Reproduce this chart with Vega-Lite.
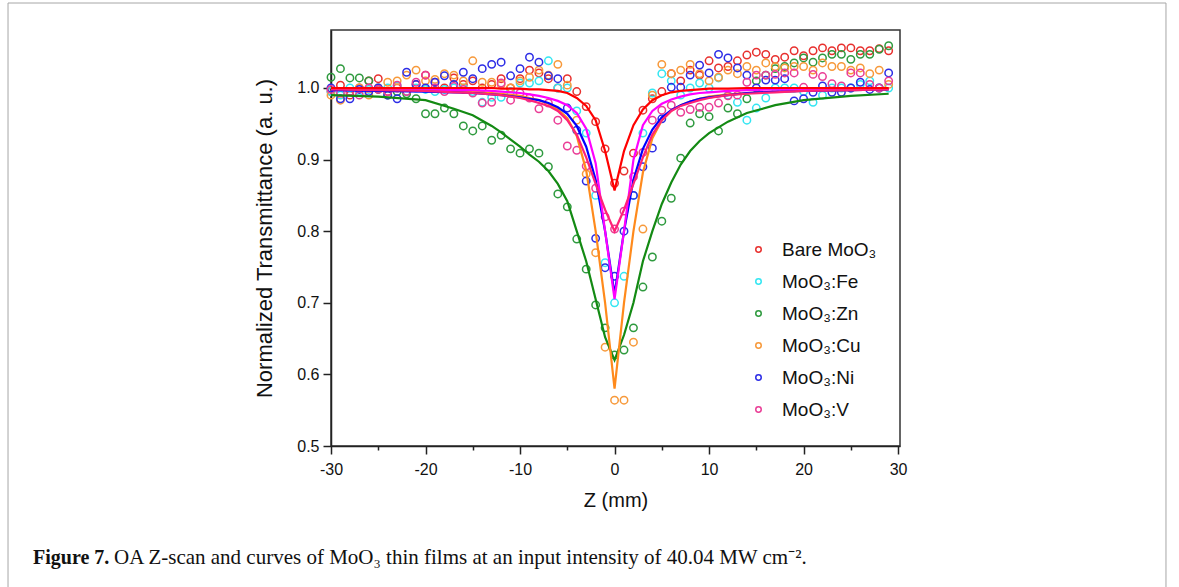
{
  "$schema": "https://vega.github.io/schema/vega-lite/v6.json",
  "width": 569,
  "height": 416,
  "autosize": {"type": "none"},
  "padding": {"left": 331, "top": 30, "right": 279, "bottom": 141},
  "background": "white",
  "config": {
    "view": {"stroke": "#333333", "strokeWidth": 1.5},
    "axis": {
      "grid": false,
      "domainColor": "#222222",
      "domainWidth": 1.5,
      "tickColor": "#222222",
      "tickWidth": 1.5,
      "labelFont": "Liberation Sans",
      "labelFontSize": 16,
      "labelColor": "#111111",
      "titleFont": "Liberation Sans",
      "titleFontSize": 20,
      "titleFontWeight": "normal",
      "titleColor": "#111111",
      "labelOverlap": false,
      "labelBound": false,
      "labelFlush": false
    }
  },
  "datasets": {
    "pts": [
      {"z": -30, "Bare MoO₃": 0.995, "MoO₃:Fe": 0.995, "MoO₃:Zn": 1.015, "MoO₃:Cu": 0.99, "MoO₃:Ni": 1.0, "MoO₃:V": 0.998},
      {"z": -29, "Bare MoO₃": 1.004, "MoO₃:Fe": 0.99, "MoO₃:Zn": 1.027, "MoO₃:Cu": 0.983, "MoO₃:Ni": 0.985, "MoO₃:V": 0.993},
      {"z": -28, "Bare MoO₃": 0.99, "MoO₃:Fe": 1.0, "MoO₃:Zn": 1.014, "MoO₃:Cu": 0.995, "MoO₃:Ni": 0.985, "MoO₃:V": 0.995},
      {"z": -27, "Bare MoO₃": 1.0, "MoO₃:Fe": 0.995, "MoO₃:Zn": 1.014, "MoO₃:Cu": 1.0, "MoO₃:Ni": 0.998, "MoO₃:V": 0.99},
      {"z": -26, "Bare MoO₃": 1.01, "MoO₃:Fe": 0.998, "MoO₃:Zn": 1.01, "MoO₃:Cu": 0.99, "MoO₃:Ni": 0.995, "MoO₃:V": 1.0},
      {"z": -25, "Bare MoO₃": 1.013, "MoO₃:Fe": 1.0, "MoO₃:Zn": 0.998, "MoO₃:Cu": 1.0, "MoO₃:Ni": 1.0, "MoO₃:V": 0.998},
      {"z": -24, "Bare MoO₃": 0.995, "MoO₃:Fe": 1.0, "MoO₃:Zn": 0.99, "MoO₃:Cu": 1.008, "MoO₃:Ni": 0.99, "MoO₃:V": 0.995},
      {"z": -23, "Bare MoO₃": 1.0, "MoO₃:Fe": 1.003, "MoO₃:Zn": 0.995, "MoO₃:Cu": 1.01, "MoO₃:Ni": 0.985, "MoO₃:V": 1.004},
      {"z": -22, "Bare MoO₃": 0.995, "MoO₃:Fe": 0.995, "MoO₃:Zn": 0.992, "MoO₃:Cu": 1.018, "MoO₃:Ni": 1.022, "MoO₃:V": 0.995},
      {"z": -21, "Bare MoO₃": 1.005, "MoO₃:Fe": 1.0, "MoO₃:Zn": 0.985, "MoO₃:Cu": 1.025, "MoO₃:Ni": 1.005, "MoO₃:V": 1.008},
      {"z": -20, "Bare MoO₃": 1.018, "MoO₃:Fe": 0.998, "MoO₃:Zn": 0.964, "MoO₃:Cu": 1.01, "MoO₃:Ni": 1.0, "MoO₃:V": 1.018},
      {"z": -19, "Bare MoO₃": 1.008, "MoO₃:Fe": 0.995, "MoO₃:Zn": 0.964, "MoO₃:Cu": 1.012, "MoO₃:Ni": 1.008, "MoO₃:V": 1.0},
      {"z": -18, "Bare MoO₃": 1.0, "MoO₃:Fe": 0.998, "MoO₃:Zn": 0.972, "MoO₃:Cu": 1.02, "MoO₃:Ni": 1.017, "MoO₃:V": 0.995},
      {"z": -17, "Bare MoO₃": 1.014, "MoO₃:Fe": 1.0, "MoO₃:Zn": 0.964, "MoO₃:Cu": 1.018, "MoO₃:Ni": 1.005, "MoO₃:V": 1.002},
      {"z": -16, "Bare MoO₃": 1.005, "MoO₃:Fe": 1.0, "MoO₃:Zn": 0.947, "MoO₃:Cu": 1.01, "MoO₃:Ni": 1.022, "MoO₃:V": 0.998},
      {"z": -15, "Bare MoO₃": 1.01, "MoO₃:Fe": 0.995, "MoO₃:Zn": 0.94, "MoO₃:Cu": 1.038, "MoO₃:Ni": 1.013, "MoO₃:V": 0.993},
      {"z": -14, "Bare MoO₃": 1.0, "MoO₃:Fe": 0.98, "MoO₃:Zn": 0.947, "MoO₃:Cu": 1.008, "MoO₃:Ni": 1.027, "MoO₃:V": 0.979},
      {"z": -13, "Bare MoO₃": 1.005, "MoO₃:Fe": 0.987, "MoO₃:Zn": 0.927, "MoO₃:Cu": 1.008, "MoO₃:Ni": 1.033, "MoO₃:V": 0.98},
      {"z": -12, "Bare MoO₃": 1.013, "MoO₃:Fe": 0.987, "MoO₃:Zn": 0.934, "MoO₃:Cu": 1.005, "MoO₃:Ni": 1.036, "MoO₃:V": 1.007},
      {"z": -11, "Bare MoO₃": 1.0, "MoO₃:Fe": 0.995, "MoO₃:Zn": 0.915, "MoO₃:Cu": 1.0, "MoO₃:Ni": 1.017, "MoO₃:V": 0.983},
      {"z": -10, "Bare MoO₃": 1.013, "MoO₃:Fe": 1.007, "MoO₃:Zn": 0.909, "MoO₃:Cu": 1.01, "MoO₃:Ni": 1.027, "MoO₃:V": 0.993},
      {"z": -9, "Bare MoO₃": 1.025, "MoO₃:Fe": 1.007, "MoO₃:Zn": 0.915, "MoO₃:Cu": 1.015, "MoO₃:Ni": 1.043, "MoO₃:V": 0.986},
      {"z": -8, "Bare MoO₃": 1.021, "MoO₃:Fe": 1.01, "MoO₃:Zn": 0.909, "MoO₃:Cu": 1.025, "MoO₃:Ni": 1.036, "MoO₃:V": 0.971},
      {"z": -7, "Bare MoO₃": 1.013, "MoO₃:Fe": 1.038, "MoO₃:Zn": 0.89, "MoO₃:Cu": 1.018, "MoO₃:Ni": 1.017, "MoO₃:V": 0.979},
      {"z": -6, "Bare MoO₃": 1.0, "MoO₃:Fe": 1.0, "MoO₃:Zn": 0.852, "MoO₃:Cu": 1.033, "MoO₃:Ni": 1.013, "MoO₃:V": 0.955},
      {"z": -5, "Bare MoO₃": 1.013, "MoO₃:Fe": 1.0, "MoO₃:Zn": 0.834, "MoO₃:Cu": 1.004, "MoO₃:Ni": 0.972, "MoO₃:V": 0.919},
      {"z": -4, "Bare MoO₃": 0.995, "MoO₃:Fe": 0.968, "MoO₃:Zn": 0.789, "MoO₃:Cu": 0.955, "MoO₃:Ni": 0.941, "MoO₃:V": 0.913},
      {"z": -3, "Bare MoO₃": 0.974, "MoO₃:Fe": 0.937, "MoO₃:Zn": 0.747, "MoO₃:Cu": 0.88, "MoO₃:Ni": 0.87, "MoO₃:V": 0.891},
      {"z": -2, "Bare MoO₃": 0.953, "MoO₃:Fe": 0.85, "MoO₃:Zn": 0.697, "MoO₃:Cu": 0.77, "MoO₃:Ni": 0.79, "MoO₃:V": 0.86},
      {"z": -1, "Bare MoO₃": 0.915, "MoO₃:Fe": 0.756, "MoO₃:Zn": 0.665, "MoO₃:Cu": 0.638, "MoO₃:Ni": 0.749, "MoO₃:V": 0.82},
      {"z": 0, "Bare MoO₃": 0.867, "MoO₃:Fe": 0.7, "MoO₃:Zn": 0.627, "MoO₃:Cu": 0.564, "MoO₃:Ni": 0.737, "MoO₃:V": 0.803},
      {"z": 1, "Bare MoO₃": 0.884, "MoO₃:Fe": 0.737, "MoO₃:Zn": 0.634, "MoO₃:Cu": 0.564, "MoO₃:Ni": 0.8, "MoO₃:V": 0.828},
      {"z": 2, "Bare MoO₃": 0.909, "MoO₃:Fe": 0.85, "MoO₃:Zn": 0.665, "MoO₃:Cu": 0.645, "MoO₃:Ni": 0.85, "MoO₃:V": 0.876},
      {"z": 3, "Bare MoO₃": 0.969, "MoO₃:Fe": 0.937, "MoO₃:Zn": 0.722, "MoO₃:Cu": 0.803, "MoO₃:Ni": 0.89, "MoO₃:V": 0.91},
      {"z": 4, "Bare MoO₃": 0.985, "MoO₃:Fe": 0.993, "MoO₃:Zn": 0.764, "MoO₃:Cu": 0.99, "MoO₃:Ni": 0.916, "MoO₃:V": 0.955},
      {"z": 5, "Bare MoO₃": 0.995, "MoO₃:Fe": 1.02, "MoO₃:Zn": 0.814, "MoO₃:Cu": 1.033, "MoO₃:Ni": 0.957, "MoO₃:V": 0.969},
      {"z": 6, "Bare MoO₃": 1.02, "MoO₃:Fe": 1.01, "MoO₃:Zn": 0.846, "MoO₃:Cu": 1.02, "MoO₃:Ni": 1.001, "MoO₃:V": 0.976},
      {"z": 7, "Bare MoO₃": 1.01, "MoO₃:Fe": 0.99, "MoO₃:Zn": 0.902, "MoO₃:Cu": 1.025, "MoO₃:Ni": 1.001, "MoO₃:V": 0.966},
      {"z": 8, "Bare MoO₃": 1.025, "MoO₃:Fe": 1.0, "MoO₃:Zn": 0.951, "MoO₃:Cu": 1.033, "MoO₃:Ni": 1.018, "MoO₃:V": 0.97},
      {"z": 9, "Bare MoO₃": 1.018, "MoO₃:Fe": 1.007, "MoO₃:Zn": 0.964, "MoO₃:Cu": 1.02, "MoO₃:Ni": 1.032, "MoO₃:V": 0.973},
      {"z": 10, "Bare MoO₃": 1.038, "MoO₃:Fe": 1.0, "MoO₃:Zn": 0.96, "MoO₃:Cu": 1.01, "MoO₃:Ni": 1.021, "MoO₃:V": 0.973},
      {"z": 11, "Bare MoO₃": 1.028, "MoO₃:Fe": 1.014, "MoO₃:Zn": 0.94, "MoO₃:Cu": 1.015, "MoO₃:Ni": 1.047, "MoO₃:V": 0.979},
      {"z": 12, "Bare MoO₃": 1.03, "MoO₃:Fe": 0.99, "MoO₃:Zn": 0.972, "MoO₃:Cu": 1.025, "MoO₃:Ni": 1.042, "MoO₃:V": 0.989},
      {"z": 13, "Bare MoO₃": 1.038, "MoO₃:Fe": 0.98, "MoO₃:Zn": 0.964, "MoO₃:Cu": 1.02, "MoO₃:Ni": 1.028, "MoO₃:V": 0.99},
      {"z": 14, "Bare MoO₃": 1.046, "MoO₃:Fe": 0.955, "MoO₃:Zn": 0.985, "MoO₃:Cu": 1.03, "MoO₃:Ni": 1.018, "MoO₃:V": 1.008},
      {"z": 15, "Bare MoO₃": 1.05, "MoO₃:Fe": 0.972, "MoO₃:Zn": 1.01, "MoO₃:Cu": 1.025, "MoO₃:Ni": 1.0, "MoO₃:V": 1.018},
      {"z": 16, "Bare MoO₃": 1.047, "MoO₃:Fe": 0.986, "MoO₃:Zn": 1.018, "MoO₃:Cu": 1.035, "MoO₃:Ni": 1.011, "MoO₃:V": 1.018},
      {"z": 17, "Bare MoO₃": 1.04, "MoO₃:Fe": 1.0, "MoO₃:Zn": 1.027, "MoO₃:Cu": 1.03, "MoO₃:Ni": 1.011, "MoO₃:V": 1.019},
      {"z": 18, "Bare MoO₃": 1.043, "MoO₃:Fe": 1.0, "MoO₃:Zn": 1.03, "MoO₃:Cu": 1.028, "MoO₃:Ni": 1.013, "MoO₃:V": 1.021},
      {"z": 19, "Bare MoO₃": 1.052, "MoO₃:Fe": 1.0, "MoO₃:Zn": 1.035, "MoO₃:Cu": 1.03, "MoO₃:Ni": 0.982, "MoO₃:V": 1.021},
      {"z": 20, "Bare MoO₃": 1.045, "MoO₃:Fe": 0.995, "MoO₃:Zn": 1.042, "MoO₃:Cu": 1.03, "MoO₃:Ni": 0.985, "MoO₃:V": 1.001},
      {"z": 21, "Bare MoO₃": 1.052, "MoO₃:Fe": 0.98, "MoO₃:Zn": 1.036, "MoO₃:Cu": 1.025, "MoO₃:Ni": 0.994, "MoO₃:V": 1.019},
      {"z": 22, "Bare MoO₃": 1.056, "MoO₃:Fe": 0.99, "MoO₃:Zn": 1.042, "MoO₃:Cu": 1.035, "MoO₃:Ni": 1.003, "MoO₃:V": 1.016},
      {"z": 23, "Bare MoO₃": 1.052, "MoO₃:Fe": 1.0, "MoO₃:Zn": 1.047, "MoO₃:Cu": 1.03, "MoO₃:Ni": 0.994, "MoO₃:V": 1.006},
      {"z": 24, "Bare MoO₃": 1.056, "MoO₃:Fe": 1.0, "MoO₃:Zn": 1.047, "MoO₃:Cu": 1.03, "MoO₃:Ni": 0.994, "MoO₃:V": 1.003},
      {"z": 25, "Bare MoO₃": 1.056, "MoO₃:Fe": 1.0, "MoO₃:Zn": 1.04, "MoO₃:Cu": 1.025, "MoO₃:Ni": 1.0, "MoO₃:V": 1.021},
      {"z": 26, "Bare MoO₃": 1.052, "MoO₃:Fe": 1.005, "MoO₃:Zn": 1.047, "MoO₃:Cu": 1.028, "MoO₃:Ni": 1.008, "MoO₃:V": 1.021},
      {"z": 27, "Bare MoO₃": 1.052, "MoO₃:Fe": 1.01, "MoO₃:Zn": 1.047, "MoO₃:Cu": 1.02, "MoO₃:Ni": 0.998, "MoO₃:V": 1.005},
      {"z": 28, "Bare MoO₃": 1.055, "MoO₃:Fe": 1.0, "MoO₃:Zn": 1.054, "MoO₃:Cu": 1.025, "MoO₃:Ni": 1.0, "MoO₃:V": 1.0},
      {"z": 29, "Bare MoO₃": 1.052, "MoO₃:Fe": 1.0, "MoO₃:Zn": 1.059, "MoO₃:Cu": 1.005, "MoO₃:Ni": 1.021, "MoO₃:V": 1.01}
    ],
    "fit": [
      {"z": -30, "Bare MoO₃": 1.0, "MoO₃:Fe": 0.999, "MoO₃:Zn": 0.99, "MoO₃:Cu": 0.998, "MoO₃:Ni": 0.997, "MoO₃:V": 0.998},
      {"z": -25, "Bare MoO₃": 1.0, "MoO₃:Fe": 0.999, "MoO₃:Zn": 0.988, "MoO₃:Cu": 0.998, "MoO₃:Ni": 0.996, "MoO₃:V": 0.997},
      {"z": -20, "Bare MoO₃": 1.0, "MoO₃:Fe": 0.998, "MoO₃:Zn": 0.983, "MoO₃:Cu": 0.997, "MoO₃:Ni": 0.995, "MoO₃:V": 0.996},
      {"z": -17, "Bare MoO₃": 1.0, "MoO₃:Fe": 0.997, "MoO₃:Zn": 0.971, "MoO₃:Cu": 0.996, "MoO₃:Ni": 0.994, "MoO₃:V": 0.994},
      {"z": -15, "Bare MoO₃": 1.0, "MoO₃:Fe": 0.997, "MoO₃:Zn": 0.962, "MoO₃:Cu": 0.995, "MoO₃:Ni": 0.993, "MoO₃:V": 0.993},
      {"z": -13, "Bare MoO₃": 1.0, "MoO₃:Fe": 0.996, "MoO₃:Zn": 0.947, "MoO₃:Cu": 0.993, "MoO₃:Ni": 0.991, "MoO₃:V": 0.991},
      {"z": -12, "Bare MoO₃": 0.999, "MoO₃:Fe": 0.995, "MoO₃:Zn": 0.938, "MoO₃:Cu": 0.992, "MoO₃:Ni": 0.99, "MoO₃:V": 0.99},
      {"z": -10, "Bare MoO₃": 0.999, "MoO₃:Fe": 0.993, "MoO₃:Zn": 0.918, "MoO₃:Cu": 0.989, "MoO₃:Ni": 0.987, "MoO₃:V": 0.986},
      {"z": -9, "Bare MoO₃": 0.998, "MoO₃:Fe": 0.991, "MoO₃:Zn": 0.907, "MoO₃:Cu": 0.986, "MoO₃:Ni": 0.985, "MoO₃:V": 0.983},
      {"z": -8, "Bare MoO₃": 0.998, "MoO₃:Fe": 0.989, "MoO₃:Zn": 0.897, "MoO₃:Cu": 0.983, "MoO₃:Ni": 0.983, "MoO₃:V": 0.979},
      {"z": -7, "Bare MoO₃": 0.997, "MoO₃:Fe": 0.986, "MoO₃:Zn": 0.884, "MoO₃:Cu": 0.978, "MoO₃:Ni": 0.979, "MoO₃:V": 0.975},
      {"z": -6, "Bare MoO₃": 0.996, "MoO₃:Fe": 0.982, "MoO₃:Zn": 0.866, "MoO₃:Cu": 0.97, "MoO₃:Ni": 0.973, "MoO₃:V": 0.968},
      {"z": -5, "Bare MoO₃": 0.993, "MoO₃:Fe": 0.976, "MoO₃:Zn": 0.842, "MoO₃:Cu": 0.958, "MoO₃:Ni": 0.964, "MoO₃:V": 0.955},
      {"z": -4, "Bare MoO₃": 0.986, "MoO₃:Fe": 0.965, "MoO₃:Zn": 0.8, "MoO₃:Cu": 0.933, "MoO₃:Ni": 0.947, "MoO₃:V": 0.935},
      {"z": -3, "Bare MoO₃": 0.975, "MoO₃:Fe": 0.943, "MoO₃:Zn": 0.758, "MoO₃:Cu": 0.885, "MoO₃:Ni": 0.918, "MoO₃:V": 0.903},
      {"z": -2, "Bare MoO₃": 0.955, "MoO₃:Fe": 0.895, "MoO₃:Zn": 0.705, "MoO₃:Cu": 0.8, "MoO₃:Ni": 0.872, "MoO₃:V": 0.866},
      {"z": -1, "Bare MoO₃": 0.912, "MoO₃:Fe": 0.8, "MoO₃:Zn": 0.652, "MoO₃:Cu": 0.7, "MoO₃:Ni": 0.8, "MoO₃:V": 0.83},
      {"z": 0, "Bare MoO₃": 0.857, "MoO₃:Fe": 0.705, "MoO₃:Zn": 0.62, "MoO₃:Cu": 0.58, "MoO₃:Ni": 0.712, "MoO₃:V": 0.8},
      {"z": 1, "Bare MoO₃": 0.912, "MoO₃:Fe": 0.8, "MoO₃:Zn": 0.655, "MoO₃:Cu": 0.7, "MoO₃:Ni": 0.8, "MoO₃:V": 0.83},
      {"z": 2, "Bare MoO₃": 0.948, "MoO₃:Fe": 0.9, "MoO₃:Zn": 0.7, "MoO₃:Cu": 0.8, "MoO₃:Ni": 0.872, "MoO₃:V": 0.866},
      {"z": 3, "Bare MoO₃": 0.97, "MoO₃:Fe": 0.948, "MoO₃:Zn": 0.758, "MoO₃:Cu": 0.882, "MoO₃:Ni": 0.915, "MoO₃:V": 0.903},
      {"z": 4, "Bare MoO₃": 0.983, "MoO₃:Fe": 0.968, "MoO₃:Zn": 0.8, "MoO₃:Cu": 0.93, "MoO₃:Ni": 0.942, "MoO₃:V": 0.935},
      {"z": 5, "Bare MoO₃": 0.99, "MoO₃:Fe": 0.978, "MoO₃:Zn": 0.838, "MoO₃:Cu": 0.955, "MoO₃:Ni": 0.959, "MoO₃:V": 0.955},
      {"z": 6, "Bare MoO₃": 0.994, "MoO₃:Fe": 0.984, "MoO₃:Zn": 0.868, "MoO₃:Cu": 0.968, "MoO₃:Ni": 0.969, "MoO₃:V": 0.968},
      {"z": 7, "Bare MoO₃": 0.996, "MoO₃:Fe": 0.988, "MoO₃:Zn": 0.893, "MoO₃:Cu": 0.976, "MoO₃:Ni": 0.976, "MoO₃:V": 0.975},
      {"z": 8, "Bare MoO₃": 0.997, "MoO₃:Fe": 0.991, "MoO₃:Zn": 0.912, "MoO₃:Cu": 0.981, "MoO₃:Ni": 0.981, "MoO₃:V": 0.979},
      {"z": 9, "Bare MoO₃": 0.998, "MoO₃:Fe": 0.993, "MoO₃:Zn": 0.926, "MoO₃:Cu": 0.985, "MoO₃:Ni": 0.985, "MoO₃:V": 0.983},
      {"z": 10, "Bare MoO₃": 0.999, "MoO₃:Fe": 0.994, "MoO₃:Zn": 0.937, "MoO₃:Cu": 0.988, "MoO₃:Ni": 0.987, "MoO₃:V": 0.986},
      {"z": 12, "Bare MoO₃": 0.999, "MoO₃:Fe": 0.996, "MoO₃:Zn": 0.953, "MoO₃:Cu": 0.991, "MoO₃:Ni": 0.99, "MoO₃:V": 0.99},
      {"z": 14, "Bare MoO₃": 1.0, "MoO₃:Fe": 0.997, "MoO₃:Zn": 0.965, "MoO₃:Cu": 0.993, "MoO₃:Ni": 0.993, "MoO₃:V": 0.992},
      {"z": 17, "Bare MoO₃": 1.0, "MoO₃:Fe": 0.998, "MoO₃:Zn": 0.976, "MoO₃:Cu": 0.995, "MoO₃:Ni": 0.995, "MoO₃:V": 0.994},
      {"z": 20, "Bare MoO₃": 1.0, "MoO₃:Fe": 0.998, "MoO₃:Zn": 0.983, "MoO₃:Cu": 0.996, "MoO₃:Ni": 0.996, "MoO₃:V": 0.996},
      {"z": 25, "Bare MoO₃": 1.0, "MoO₃:Fe": 0.999, "MoO₃:Zn": 0.989, "MoO₃:Cu": 0.997, "MoO₃:Ni": 0.997, "MoO₃:V": 0.997},
      {"z": 29, "Bare MoO₃": 1.0, "MoO₃:Fe": 0.999, "MoO₃:Zn": 0.992, "MoO₃:Cu": 0.998, "MoO₃:Ni": 0.998, "MoO₃:V": 0.998}
    ]
  },
  "layer": [
    {
      "data": {"name": "pts"},
      "transform": [{"fold": ["Bare MoO₃", "MoO₃:Fe", "MoO₃:Zn", "MoO₃:Cu", "MoO₃:Ni", "MoO₃:V"], "as": ["s", "t"]}],
      "mark": {"type": "point", "filled": false, "shape": "circle", "size": 55, "strokeWidth": 1.5, "opacity": 1},
      "encoding": {
        "x": {
          "field": "z", "type": "quantitative",
          "scale": {"domain": [-30, 30.2], "nice": false, "zero": false},
          "axis": {
            "title": "Z (mm)",
            "values": [-30, -25, -20, -15, -10, -5, 0, 5, 10, 15, 20, 25, 30],
            "labelExpr": "datum.value % 10 === 0 ? toString(datum.value) : ''",
            "tickSize": {"condition": {"test": "datum.value % 10 === 0", "value": 8}, "value": 4},
            "labelPadding": 7,
            "titlePadding": 13
          }
        },
        "y": {
          "field": "t", "type": "quantitative",
          "scale": {"domain": [0.5, 1.081], "nice": false, "zero": false},
          "axis": {
            "title": "Normalized Transmittance (a. u.)",
            "titleFontSize": 22,
            "values": [0.5, 0.55, 0.6, 0.65, 0.7, 0.75, 0.8, 0.85, 0.9, 0.95, 1.0, 1.05],
            "labelExpr": "round(datum.value * 100) % 10 === 0 ? format(datum.value, '.1f') : ''",
            "tickSize": {"condition": {"test": "round(datum.value * 100) % 10 === 0", "value": 8}, "value": 4},
            "labelPadding": 4,
            "titlePadding": 20
          }
        },
        "color": {
          "field": "s", "type": "nominal",
          "scale": {
            "domain": ["Bare MoO₃", "MoO₃:Fe", "MoO₃:Zn", "MoO₃:Cu", "MoO₃:Ni", "MoO₃:V"],
            "range": ["#e8302e", "#33e6f2", "#2e9a3e", "#f7993a", "#2d2de6", "#ea3d96"]
          },
          "legend": {
            "orient": "none", "legendX": 418, "legendY": 210, "title": null,
            "symbolType": "circle", "symbolSize": 30, "symbolStrokeWidth": 1.5,
            "labelFont": "Liberation Sans", "labelFontSize": 19, "labelColor": "#111111",
            "rowPadding": 12, "labelOffset": 14, "padding": 0
          }
        }
      }
    },
    {
      "data": {"name": "fit"},
      "transform": [{"fold": ["MoO₃:Zn", "MoO₃:Cu", "MoO₃:Ni", "MoO₃:Fe", "MoO₃:V", "Bare MoO₃"], "as": ["s", "t"]}],
      "mark": {"type": "line", "strokeWidth": 2.2},
      "encoding": {
        "x": {"field": "z", "type": "quantitative", "scale": {"domain": [-30, 30.2], "nice": false, "zero": false}},
        "y": {"field": "t", "type": "quantitative", "scale": {"domain": [0.5, 1.081], "nice": false, "zero": false}},
        "stroke": {
          "field": "s", "type": "nominal",
          "scale": {
            "domain": ["Bare MoO₃", "MoO₃:Fe", "MoO₃:Zn", "MoO₃:Cu", "MoO₃:Ni", "MoO₃:V"],
            "range": ["#ff0000", "#ff00ff", "#138a13", "#ff8a1c", "#0000ff", "#ff2277"]
          },
          "legend": null
        }
      }
    },
    {
      "data": {"values": [{}]},
      "mark": {"type": "rect", "fillOpacity": 0, "stroke": "#a6a6a6", "strokeWidth": 1},
      "encoding": {
        "x": {"datum": -64.17, "type": "quantitative"},
        "x2": {"datum": 58.34},
        "y": {"datum": 1.1187, "type": "quantitative"},
        "y2": {"datum": 0.25}
      }
    },
    {
      "data": {"values": [{}]},
      "mark": {"type": "text", "text": "Figure 7.", "font": "Liberation Serif", "fontSize": 20, "fontWeight": "bold", "align": "left", "baseline": "alphabetic", "color": "#111111"},
      "encoding": {
        "x": {"datum": -61.53, "type": "quantitative"},
        "y": {"datum": 0.335, "type": "quantitative"}
      }
    },
    {
      "data": {"values": [{}]},
      "mark": {"type": "text", "text": "OA Z-scan and curves of MoO₃ thin films at an input intensity of 40.04 MW cm⁻².", "font": "Liberation Serif", "fontSize": 21, "align": "left", "baseline": "alphabetic", "color": "#111111"},
      "encoding": {
        "x": {"datum": -52.96, "type": "quantitative"},
        "y": {"datum": 0.335, "type": "quantitative"}
      }
    }
  ]
}
